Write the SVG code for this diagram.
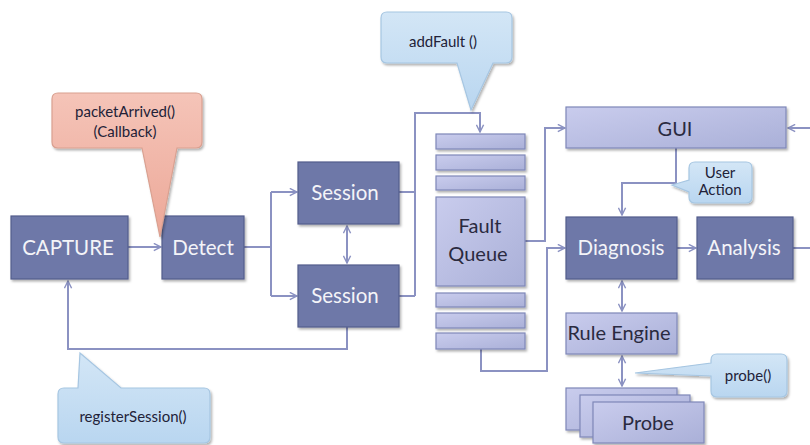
<svg xmlns="http://www.w3.org/2000/svg" width="810" height="445" viewBox="0 0 810 445">
<defs>
<style>
text{font-family:Lato,"Open Sans","Liberation Sans",sans-serif;text-anchor:middle}
.dark{fill:#6e78a8;stroke:#535c8c;stroke-width:1.2}
.dt{fill:#f4f4f8;font-size:20.5px}
.light{fill:url(#lg);stroke:#7f87b8;stroke-width:1.2}
.lt{fill:#2a2a40;font-size:20px}
.conn{fill:none;stroke:#8b92c2;stroke-width:2}
.blue{fill:url(#bg);stroke:#a6c6e2;stroke-width:1.2}
.ct{fill:#222238;font-size:15px}
</style>
<linearGradient id="lg" x1="0" y1="0" x2="1" y2="1"><stop offset="0" stop-color="#c9cced"/><stop offset="1" stop-color="#aab0d8"/></linearGradient>
<linearGradient id="bg" x1="0" y1="0" x2="0" y2="1"><stop offset="0" stop-color="#d3e6f6"/><stop offset="1" stop-color="#b9d6f0"/></linearGradient>
<linearGradient id="rg" x1="0" y1="0" x2="0" y2="1"><stop offset="0" stop-color="#f5c4b8"/><stop offset="1" stop-color="#eca898"/></linearGradient>
<filter id="sh" x="-10%" y="-10%" width="130%" height="140%"><feDropShadow dx="1.5" dy="2" stdDeviation="1.2" flood-color="#000" flood-opacity="0.3"/></filter>
<marker id="ar" viewBox="0 0 10 10" refX="9" refY="5" markerWidth="9" markerHeight="9" markerUnits="userSpaceOnUse" orient="auto-start-reverse"><path d="M1,1 L9,5 L1,9" fill="none" stroke="#8b92c2" stroke-width="1.6"/></marker>
</defs>
<rect width="810" height="445" fill="#fff"/>
<g id="connectors">
<path class="conn" d="M128,247 H161" marker-end="url(#ar)"/>
<path class="conn" d="M244,247 H271" stroke-width="3"/>
<path class="conn" d="M271,192 V296"/>
<path class="conn" d="M271,192 H297" marker-end="url(#ar)"/>
<path class="conn" d="M271,296 H297" marker-end="url(#ar)"/>
<path class="conn" d="M347,226 V263" marker-start="url(#ar)" marker-end="url(#ar)"/>
<path class="conn" d="M399,192 H415 M399,296 H415 M415,296 V113 H480 V132" marker-end="url(#ar)"/>
<path class="conn" d="M347,327 V349 H68 V281" marker-end="url(#ar)"/>
<path class="conn" d="M525,241 H545 V128 H565" marker-end="url(#ar)"/>
<path class="conn" d="M481,349 V371 H547 V248 H565" marker-end="url(#ar)"/>
<path class="conn" d="M810,128 H788" marker-end="url(#ar)"/>
<path class="conn" d="M676,148 V183 H622 V215" marker-end="url(#ar)"/>
<path class="conn" d="M677,248 H696" marker-end="url(#ar)"/>
<path class="conn" d="M793,248 H810"/>
<path class="conn" d="M622,281 V311" marker-start="url(#ar)" marker-end="url(#ar)"/>
<path class="conn" d="M622,356 V386" marker-start="url(#ar)" marker-end="url(#ar)"/>
</g>
<g id="capture"><rect class="dark" x="11" y="216" width="117" height="63" filter="url(#sh)"/><text class="dt" x="68" y="255" font-size="21.5">CAPTURE</text></g>
<g id="detect"><rect class="dark" x="162" y="216" width="82" height="63" filter="url(#sh)"/><text class="dt" x="203" y="255">Detect</text></g>
<g id="session1"><rect class="dark" x="298" y="162" width="101" height="62" filter="url(#sh)"/><text class="dt" x="345" y="200">Session</text></g>
<g id="session2"><rect class="dark" x="298" y="265" width="101" height="62" filter="url(#sh)"/><text class="dt" x="345" y="303">Session</text></g>
<g id="faultqueue">
<rect class="light" x="436" y="134" width="89" height="15" filter="url(#sh)"/>
<rect class="light" x="436" y="155" width="89" height="15" filter="url(#sh)"/>
<rect class="light" x="436" y="176" width="89" height="14" filter="url(#sh)"/>
<rect class="light" x="436" y="197" width="89" height="89" filter="url(#sh)"/>
<rect class="light" x="436" y="293" width="89" height="14" filter="url(#sh)"/>
<rect class="light" x="436" y="313" width="89" height="15" filter="url(#sh)"/>
<rect class="light" x="436" y="333" width="89" height="16" filter="url(#sh)"/>
<text class="lt" x="480" y="233">Fault</text><text class="lt" x="478" y="261">Queue</text>
</g>
<g id="gui"><rect class="light" x="566" y="107" width="220" height="41" filter="url(#sh)"/><text class="lt" x="675" y="136" font-size="21">GUI</text></g>
<g id="diagnosis"><rect class="dark" x="566" y="217" width="111" height="62" filter="url(#sh)"/><text class="dt" x="621" y="255">Diagnosis</text></g>
<g id="analysis"><rect class="dark" x="697" y="217" width="96" height="62" filter="url(#sh)"/><text class="dt" x="744" y="255">Analysis</text></g>
<g id="ruleengine"><rect class="light" x="566" y="313" width="111" height="41" filter="url(#sh)"/><text class="lt" x="619" y="340" font-size="15.5">Rule Engine</text></g>
<g id="probe">
<rect class="light" x="566" y="388" width="111" height="42" filter="url(#sh)"/>
<rect class="light" x="580" y="395" width="110" height="42" filter="url(#sh)"/>
<rect class="light" x="593" y="402" width="111" height="41" filter="url(#sh)"/>
<text class="lt" x="648" y="430" font-size="21">Probe</text>
</g>
<g id="callout-packet">
<path d="M58,93 H196 Q202,93 202,99 V142 Q202,148 196,148 H177 L160,237 L142,148 H58 Q52,148 52,142 V99 Q52,93 58,93 Z" fill="url(#rg)" stroke="#d9a090" stroke-width="1.2" filter="url(#sh)"/>
<text class="ct" x="125" y="117">packetArrived()</text><text class="ct" x="125" y="137">(Callback)</text>
</g>
<g id="callout-addfault">
<path d="M387,12 H506 Q512,12 512,18 V57 Q512,63 506,63 H493 L471,110 L457,63 H387 Q381,63 381,57 V18 Q381,12 387,12 Z" class="blue" filter="url(#sh)"/>
<text class="ct" x="443" y="47">addFault ()</text>
</g>
<g id="callout-useraction">
<path d="M695,162 H746 Q752,162 752,168 V197 Q752,203 746,203 H695 Q689,203 689,197 V192 L672,185 L689,180 V168 Q689,162 695,162 Z" class="blue" filter="url(#sh)"/>
<text class="ct" x="720" y="178" font-size="11">User</text><text class="ct" x="720" y="195" font-size="11">Action</text>
</g>
<g id="callout-probe">
<path d="M717,354 H781 Q787,354 787,360 V391 Q787,397 781,397 H717 Q711,397 711,391 V376 L635,373 L711,363 V360 Q711,354 717,354 Z" class="blue" filter="url(#sh)"/>
<text class="ct" x="748" y="381">probe()</text>
</g>
<g id="callout-register">
<path d="M64,388 H78 L80,353 L121,388 H204 Q210,388 210,394 V437 Q210,443 204,443 H64 Q58,443 58,437 V394 Q58,388 64,388 Z" class="blue" filter="url(#sh)"/>
<text class="ct" x="133" y="422">registerSession()</text>
</g>
</svg>
